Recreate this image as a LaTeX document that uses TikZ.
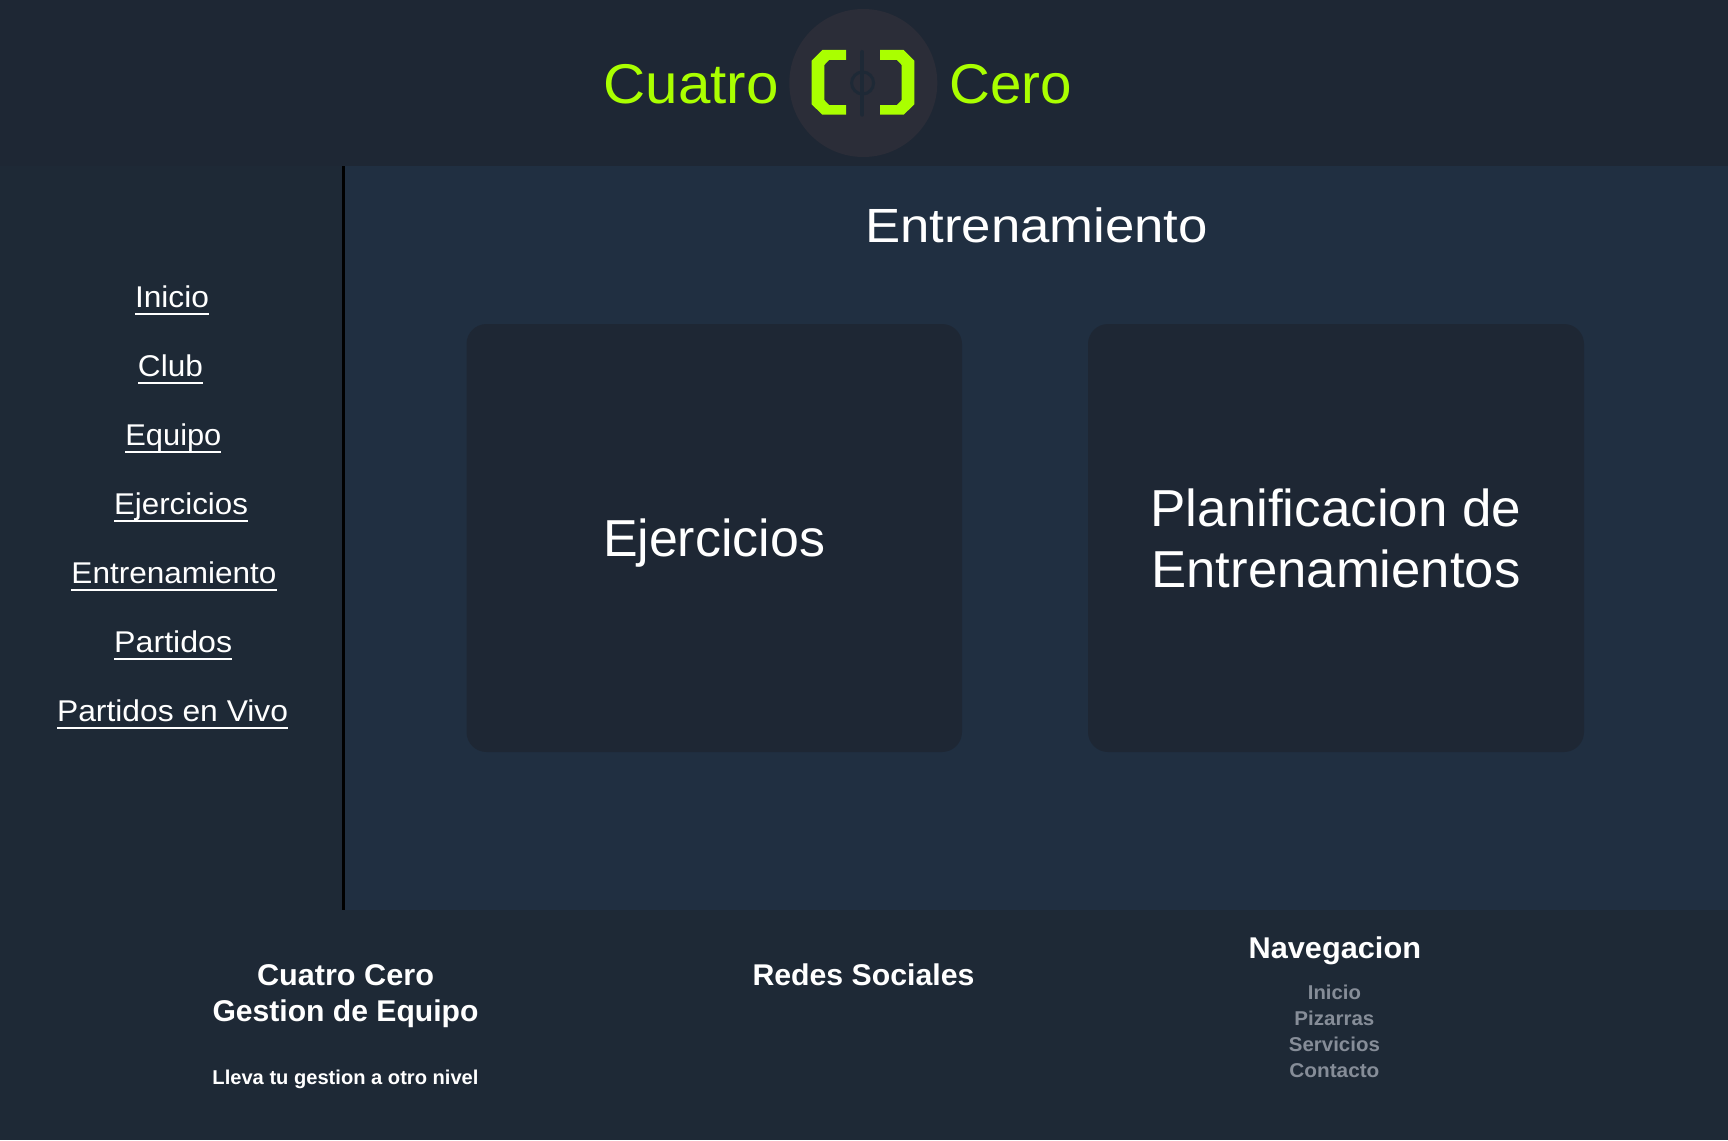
\documentclass[tikz,border=0pt]{standalone}
\usepackage{fontspec}
\usepackage{graphicx}
\setmainfont{Liberation Sans}
\definecolor{pagebg}{HTML}{1E2936}
\definecolor{headbg}{HTML}{1E2734}
\definecolor{mainbg}{HTML}{202F41}
\definecolor{cardbg}{HTML}{1E2734}
\definecolor{logobg}{HTML}{2B2D38}
\definecolor{lime}{HTML}{AAFF00}
\definecolor{mutedtxt}{HTML}{868D98}
\newcommand{\fitted}[3]{\resizebox{#1pt}{\height}{\fontsize{#2}{#2}\selectfont #3}}
\tikzset{
  txt/.style={anchor=base,inner sep=0pt,outer sep=0pt,text=white},
  ulrule/.style={draw=white,line width=1.8pt},
  card/.style={fill=cardbg,rounded corners=20pt},
}
\begin{document}
\begin{tikzpicture}[x=1pt,y=-1pt]
\useasboundingbox (0,0) rectangle (1728,1140);
\fill[pagebg] (0,0) rectangle (1728,1140);
\fill[headbg] (0,0) rectangle (1728,166);
\fill[mainbg] (345,166) rectangle (1728,910);
\fill[black] (342,166) rectangle (345,910);
% logo
\fill[logobg] (863.3,83) circle (74);
\fill[lime] (822.3,50) -- (846,50) -- (846,60) -- (829,60) -- (824.3,65) -- (824.3,100) -- (829,105) -- (846,105) -- (846,114.7) -- (822.3,114.7) -- (811.7,104.3) -- (811.7,60.7) -- cycle;
\fill[lime] (880,50) -- (903.7,50) -- (914.3,60.7) -- (914.3,104.3) -- (903.7,114.7) -- (880,114.7) -- (880,105) -- (897,105) -- (901.7,100) -- (901.7,65) -- (897,60) -- (880,60) -- cycle;
\draw[pagebg,line width=4pt,line cap=round] (862.4,52) -- (862.4,114.7);
\draw[pagebg,line width=3pt] (862.6,83) circle (11);
% titles
\node[txt,text=lime] (logoa) at (691,103) {\fitted{175}{56}{Cuatro}};
\node[txt,text=lime] (logob) at (1011,103) {\fitted{122.5}{56}{Cero}};
\node[txt] (title) at (1036.5,242.6) {\fitted{343}{48}{Entrenamiento}};
% sidebar
\newcommand{\navitem}[5]{%
  \node[txt] (#1) at (#2,#3) {\fitted{#4}{30}{#5}};
  \draw[ulrule] ([yshift=-7.3pt]#1.base west) -- ([yshift=-7.3pt]#1.base east);}
\navitem{n1}{172}{307}{74}{Inicio}
\navitem{n2}{170.5}{376}{65}{Club}
\navitem{n3}{173.4}{445}{96}{Equipo}
\navitem{n4}{181}{514}{134}{Ejercicios}
\navitem{n5}{174}{583}{205}{Entrenamiento}
\navitem{n6}{173.2}{652}{118}{Partidos}
\navitem{n7}{172.6}{721}{231}{Partidos en Vivo}
% cards
\fill[card] (466.5,324) rectangle (962,752);
\fill[card] (1088,324) rectangle (1584,752);
\node[txt] (c1) at (714,556) {\fitted{222}{52}{Ejercicios}};
\node[txt] (c2a) at (1336,526) {\fitted{371}{52}{Planificacion de}};
\node[txt] (c2b) at (1336,587.5) {\fitted{369}{52}{Entrenamientos}};
% footer
\node[txt] (f1) at (345.5,985) {\fitted{177}{30}{\bfseries Cuatro Cero}};
\node[txt] (f2) at (345.5,1021.5) {\fitted{266}{30}{\bfseries Gestion de Equipo}};
\node[txt] (f3) at (345.5,1084) {\fitted{266}{20}{\bfseries Lleva tu gestion a otro nivel}};
\node[txt] (f4) at (863.5,985) {\fitted{222}{30}{\bfseries Redes Sociales}};
\node[txt] (f5) at (1334.8,958) {\fitted{172.5}{30}{\bfseries Navegacion}};
\node[txt,text=mutedtxt] (f6) at (1334.4,999) {\fitted{53}{20}{\bfseries Inicio}};
\node[txt,text=mutedtxt] (f7) at (1334.4,1025) {\fitted{80}{20}{\bfseries Pizarras}};
\node[txt,text=mutedtxt] (f8) at (1334.4,1051) {\fitted{91}{20}{\bfseries Servicios}};
\node[txt,text=mutedtxt] (f9) at (1334.4,1077) {\fitted{90}{20}{\bfseries Contacto}};
\end{tikzpicture}
\end{document}
